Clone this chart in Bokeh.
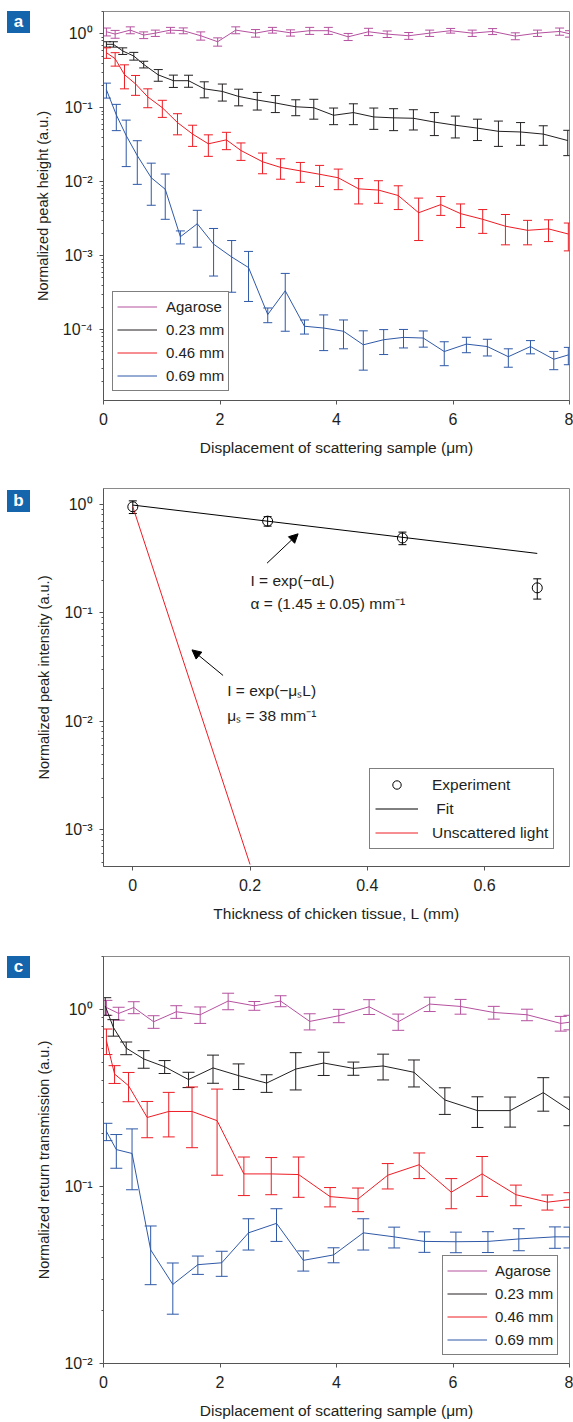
from bokeh.plotting import figure
from bokeh.models import (ColumnDataSource, Whisker, TeeHead, Legend, LegendItem, Label, Arrow,
                          NormalHead, FixedTicker, CustomJSTickFormatter, Range1d, Div)
from bokeh.layouts import column, row
from bokeh.embed import file_html
from bokeh.resources import INLINE

FONT = "Liberation Sans"
FS_TICK = "16px"
FS_X = "15.5px"
FS_Y = "14.5px"
FS_LEG = "15px"
FS_ANN = "15.5px"
TXT = "#231f20"
C_AG = "#b5519f"
C_BK = "#231f20"
C_RD = "#ed1c24"
C_BL = "#2f59a7"
NAN = float("nan")

# ---------------- Panel a data ----------------
a_ag_x = [0.05, 0.2, 0.46, 0.69, 0.89, 1.15, 1.37, 1.67, 1.96, 2.27, 2.61, 2.90, 3.21, 3.54,
          3.86, 4.20, 4.55, 4.87, 5.24, 5.60, 5.96, 6.33, 6.68, 7.07, 7.45, 7.83, 8.0]
a_ag_y = [1.065, 0.99, 1.12, 0.96, 1.02, 1.12, 1.10, 0.94, 0.78, 1.12, 1.02, 1.12, 1.03, 1.10,
          1.10, 0.91, 1.065, 0.99, 0.94, 1.02, 1.10, 1.02, 1.075, 0.93, 1.02, 1.075, 1.0]
a_ag_e = [0.13, 0.12, 0.12, 0.1, 0.1, 0.1, 0.1, 0.12, 0.1, 0.12, 0.12, 0.1, 0.1, 0.12,
          0.12, 0.1, 0.12, 0.1, 0.1, 0.1, 0.08, 0.1, 0.1, 0.1, 0.1, 0.12, 0.1]

a_bk_x = [0.05, 0.17, 0.33, 0.52, 0.69, 0.94, 1.20, 1.46, 1.73, 2.04, 2.32, 2.64, 2.95, 3.30,
          3.61, 3.95, 4.29, 4.64, 4.98, 5.32, 5.68, 6.04, 6.42, 6.78, 7.16, 7.55, 7.97]
a_bk_y = [0.72, 0.72, 0.585, 0.50, 0.385, 0.278, 0.232, 0.232, 0.18, 0.166, 0.142, 0.127, 0.116,
          0.103, 0.100, 0.079, 0.086, 0.075, 0.073, 0.072, 0.064, 0.058, 0.053, 0.048, 0.047,
          0.044, 0.036]
a_bk_e = [0.06, 0.06, 0.06, 0.06, 0.04, 0.05, 0.044, 0.043, 0.044, 0.043, 0.036, 0.034, 0.03,
          0.025, 0.03, 0.02, 0.027, 0.024, 0.024, 0.022, 0.022, 0.019, 0.017, 0.018, 0.016,
          0.013, 0.0135]

a_rd_x = [0.05, 0.2, 0.36, 0.55, 0.76, 1.01, 1.27, 1.53, 1.80, 2.11, 2.36, 2.73, 3.04, 3.38,
          3.71, 4.03, 4.38, 4.72, 5.06, 5.41, 5.79, 6.13, 6.51, 6.90, 7.28, 7.64, 7.98]
a_rd_y = [0.555, 0.46, 0.28, 0.21, 0.14, 0.1, 0.063, 0.044, 0.0325, 0.0368, 0.0264, 0.0186,
          0.0156, 0.014, 0.0126, 0.0113, 0.0080, 0.0077, 0.0065, 0.0038, 0.0049, 0.0037, 0.0031,
          0.0025, 0.0022, 0.0023, 0.00196]
a_rd_e = [0.09, 0.095, 0.1, 0.063, 0.04, 0.026, 0.02, 0.014, 0.0105, 0.0097, 0.007, 0.0058,
          0.0048, 0.0042, 0.004, 0.0035, 0.003, 0.0026, 0.0023, 0.0022, 0.0014, 0.0013, 0.0011,
          0.0011, 0.0008, 0.00075, 0.0008]

a_bl_x = [0.05, 0.22, 0.39, 0.58, 0.82, 1.06, 1.32, 1.61, 1.89, 2.2, 2.49, 2.82, 3.12, 3.45,
          3.78, 4.12, 4.46, 4.81, 5.15, 5.49, 5.85, 6.23, 6.59, 6.95, 7.33, 7.73, 7.98]
a_bl_y = [0.175, 0.08, 0.042, 0.0225, 0.0113, 0.0079, 0.0018, 0.0027, 0.00143, 0.00096, 0.00069,
          0.00016, 0.000335, 0.000111, 0.000105, 0.000095, 0.0000623, 0.000073, 0.0000785,
          0.0000769, 0.0000505, 0.0000637, 0.000059, 0.000043, 0.000059, 0.0000397, 0.0000455]
a_bl_e = [0.04, 0.031, 0.026, 0.0133, 0.0065, 0.0048, 0.00036, 0.0014, 0.0009, 0.00064, 0.00045,
          0.000036, 0.00024, 0.000024, 0.000053, 0.00004, 0.000034, 0.000027, 0.000022,
          0.000019, 0.000018, 0.000015, 0.000015, 0.000012, 0.000012, 0.000011, 0.000012]

# ---------------- Panel b data ----------------
b_exp_x = [0.0, 0.23, 0.46, 0.69]
b_exp_y = [0.95, 0.70, 0.49, 0.17]
b_exp_e = [0.127, 0.07, 0.065, 0.036]
b_fit_x = [0.0, 0.69]
b_fit_y = [0.985, 0.353]
b_uns_x = [0.0, 0.2]
b_uns_y = [0.95, 0.00048]

# ---------------- Panel c data ----------------
c_ag_x = [0.05, 0.26, 0.52, 0.86, 1.25, 1.66, 2.14, 2.59, 3.04, 3.54, 4.04, 4.56, 5.06, 5.60,
          6.13, 6.70, 7.27, 7.85, 8.0]
c_ag_y = [1.03, 0.953, 1.03, 0.855, 0.974, 0.937, 1.12, 1.053, 1.12, 0.859, 0.925, 1.04, 0.855,
          1.077, 1.044, 0.965, 0.937, 0.837, 0.85]
c_ag_e = [0.1, 0.08, 0.08, 0.07, 0.08, 0.1, 0.12, 0.06, 0.08, 0.09, 0.08, 0.1, 0.09, 0.1, 0.1,
          0.08, 0.07, 0.08, 0.08]

c_bk_x = [0.03, 0.17, 0.39, 0.69, 1.05, 1.46, 1.88, 2.32, 2.80, 3.30, 3.78, 4.29, 4.80, 5.33,
          5.86, 6.42, 6.98, 7.55, 8.0]
c_bk_y = [1.05, 0.794, 0.607, 0.527, 0.476, 0.403, 0.469, 0.424, 0.385, 0.462, 0.5, 0.466,
          0.481, 0.443, 0.309, 0.269, 0.269, 0.34, 0.271]
c_bk_e = [0.12, 0.085, 0.05, 0.06, 0.04, 0.04, 0.085, 0.07, 0.044, 0.11, 0.075, 0.04, 0.08,
          0.077, 0.053, 0.053, 0.052, 0.073, 0.05]

c_rd_x = [0.05, 0.19, 0.43, 0.75, 1.12, 1.52, 1.95, 2.41, 2.88, 3.35, 3.89, 4.37, 4.88, 5.42,
          5.97, 6.50, 7.08, 7.62, 8.0]
c_rd_y = [0.668, 0.433, 0.372, 0.246, 0.266, 0.266, 0.236, 0.118, 0.118, 0.117, 0.0878, 0.0852,
          0.116, 0.133, 0.093, 0.118, 0.09, 0.0817, 0.0844]
c_rd_e = [0.11, 0.05, 0.07, 0.057, 0.075, 0.1, 0.12, 0.029, 0.028, 0.03, 0.011, 0.013, 0.019,
          0.022, 0.018, 0.03, 0.012, 0.008, 0.008]

c_bl_x = [0.05, 0.22, 0.49, 0.81, 1.19, 1.62, 2.03, 2.49, 2.97, 3.43, 3.95, 4.46, 4.99, 5.51,
          6.05, 6.60, 7.13, 7.75, 8.0]
c_bl_y = [0.205, 0.162, 0.154, 0.0439, 0.028, 0.0362, 0.0371, 0.0548, 0.062, 0.0383, 0.0411,
          0.0548, 0.052, 0.049, 0.0488, 0.049, 0.0506, 0.052, 0.052]
c_bl_e = [0.023, 0.035, 0.058, 0.016, 0.009, 0.0043, 0.006, 0.011, 0.013, 0.005, 0.004, 0.011,
          0.007, 0.0065, 0.0065, 0.0066, 0.0072, 0.0072, 0.007]

legend_labels = ["Agarose", "0.23 mm", "0.46 mm", "0.69 mm"]
series_colors = [C_AG, C_BK, C_RD, C_BL]
x_ticks_disp = [0, 2, 4, 6, 8]
x_ticks_thick = [0, 0.2, 0.4, 0.6]

SUP_JS = """
const e = Math.round(Math.log10(tick));
const m = {"-": "\u207b", "0": "\u2070", "1": "\u00b9", "2": "\u00b2", "3": "\u00b3",
           "4": "\u2074", "5": "\u2075", "6": "\u2076", "7": "\u2077", "8": "\u2078", "9": "\u2079"};
return "10" + String(e).split("").map(c => m[c]).join("");
"""

PAGE_W = 573
LETTER_W = 31
FRAME_LEFT = 103


def log_ticks(lo, hi):
    major = [10.0 ** k for k in range(lo, hi + 1)]
    minor = [m * 10.0 ** k for k in range(lo - 1, hi + 1) for m in range(2, 10)]
    return FixedTicker(ticks=major, minor_ticks=minor)


def make_fig(height, btop, bbot, xr, yr, ylo, yhi, xticks):
    p = figure(width=PAGE_W - LETTER_W, height=height, x_range=Range1d(*xr),
               y_range=Range1d(*yr), y_axis_type="log", output_backend="svg",
               toolbar_location=None, min_border_left=FRAME_LEFT - LETTER_W,
               min_border_right=4, min_border_top=btop, min_border_bottom=bbot)
    p.grid.visible = False
    p.outline_line_color = "#8a8a8a"
    p.outline_line_width = 1
    for ax in (p.xaxis[0], p.yaxis[0]):
        ax.axis_line_color = "#555555"
        ax.major_tick_line_color = "#555555"
        ax.minor_tick_line_color = "#555555"
        ax.major_tick_in = 0
        ax.major_tick_out = 4
        ax.minor_tick_in = 0
        ax.minor_tick_out = 2
        ax.major_label_text_font = FONT
        ax.major_label_text_font_size = FS_TICK
        ax.major_label_text_color = TXT
        ax.axis_label_text_font = FONT
        ax.axis_label_text_font_style = "normal"
        ax.axis_label_text_color = TXT
    p.xaxis.axis_label_text_font_size = FS_X
    p.yaxis.axis_label_text_font_size = FS_Y
    p.xaxis.ticker = FixedTicker(ticks=xticks)
    p.xaxis.minor_tick_line_color = None
    p.xaxis.major_label_standoff = 8
    p.xaxis.axis_label_standoff = 11
    p.yaxis.major_label_standoff = 7
    p.yaxis.axis_label_standoff = 9
    p.yaxis.ticker = log_ticks(ylo, yhi)
    p.yaxis.formatter = CustomJSTickFormatter(code=SUP_JS)
    return p


def legend_renderers(p, colors):
    # dedicated renderers (NaN data, nothing drawn in the frame) used for legend swatches
    return [p.line(x=[NAN, NAN], y=[NAN, NAN], line_color=c, line_width=1) for c in colors]


def series(p, x, y, e, color, cap):
    p.line(x, y, line_color=color, line_width=1)
    src = ColumnDataSource(dict(x=x, lo=[a - b for a, b in zip(y, e)],
                                hi=[a + b for a, b in zip(y, e)]))
    w = Whisker(base="x", lower="lo", upper="hi", source=src, line_color=color, line_width=1,
                upper_head=TeeHead(size=cap, line_color=color, line_width=1),
                lower_head=TeeHead(size=cap, line_color=color, line_width=1))
    p.add_layout(w)


def letter_div(letter, top, height):
    html = ('<div style="position:relative;width:%dpx;height:%dpx;">'
            '<div style="position:absolute;left:7px;top:%dpx;width:23px;height:22px;'
            'background:#1565ad;color:#ffffff;font-family:\'Liberation Sans\',Arial,sans-serif;'
            'font-weight:bold;font-size:17px;line-height:22px;text-align:center;">%s</div></div>'
            % (LETTER_W, height, top, letter))
    return Div(text=html, width=LETTER_W, height=height, margin=0)


def style_legend(leg, gw, lh, sp, pad, standoff):
    leg.border_line_color = "black"
    leg.border_line_width = 1
    leg.background_fill_color = "white"
    leg.background_fill_alpha = 1
    leg.label_text_font = FONT
    leg.label_text_font_size = FS_LEG
    leg.label_text_color = TXT
    leg.glyph_width = gw
    leg.glyph_height = lh
    leg.label_height = lh
    leg.spacing = sp
    leg.padding = pad
    leg.margin = 0
    leg.label_standoff = standoff


# ---------------- Panel a ----------------
H_A, H_B, H_C = 470, 466, 497
pa = make_fig(H_A, 11, 70, (0, 8), (1.1e-5, 2.0), -4, 0, x_ticks_disp)
pa.xaxis.axis_label = "Displacement of scattering sample (\u03bcm)"
pa.yaxis.axis_label = "Normalized peak height (a.u.)"
series(pa, a_ag_x, a_ag_y, a_ag_e, C_AG, 9)
series(pa, a_bk_x, a_bk_y, a_bk_e, C_BK, 9)
series(pa, a_rd_x, a_rd_y, a_rd_e, C_RD, 9)
series(pa, a_bl_x, a_bl_y, a_bl_e, C_BL, 9)
la = legend_renderers(pa, series_colors)
leg_a = Legend(items=[LegendItem(label=l, renderers=[r]) for l, r in zip(legend_labels, la)],
               location=(9, 9))
style_legend(leg_a, 40, 21, 2, 4, 9)
pa.add_layout(leg_a)

# ---------------- Panel b ----------------
pb = make_fig(H_B, 18, 70, (-0.05, 0.745), (4.6e-4, 1.4), -3, 0, x_ticks_thick)
pb.xaxis.axis_label = "Thickness of chicken tissue, L (mm)"
pb.yaxis.axis_label = "Normalized peak intensity (a.u.)"
r_uns = pb.line(b_uns_x, b_uns_y, line_color=C_RD, line_width=1)
r_fit = pb.line(b_fit_x, b_fit_y, line_color="black", line_width=1)
src_e = ColumnDataSource(dict(x=b_exp_x, y=b_exp_y,
                              lo=[a - b for a, b in zip(b_exp_y, b_exp_e)],
                              hi=[a + b for a, b in zip(b_exp_y, b_exp_e)]))
pb.add_layout(Whisker(base="x", lower="lo", upper="hi", source=src_e, line_color="black",
                      line_width=1, upper_head=TeeHead(size=8, line_color="black", line_width=1),
                      lower_head=TeeHead(size=8, line_color="black", line_width=1)))
r_exp = pb.scatter("x", "y", source=src_e, marker="circle", size=10, fill_color=None,
                   line_color="black", line_width=1)
leg_b = Legend(items=[LegendItem(label="Experiment", renderers=[r_exp]),
                      LegendItem(label=" Fit", renderers=[r_fit]),
                      LegendItem(label="Unscattered light", renderers=[r_uns])],
               location=(266, 17))
style_legend(leg_b, 43, 21, 3, 5, 14)
leg_b.label_text_font_size = FS_ANN
pb.add_layout(leg_b)
pb.add_layout(Arrow(x_start=0.229, y_start=0.287, x_end=0.282, y_end=0.535, line_width=1,
                    line_color="black",
                    end=NormalHead(size=9, fill_color="black", line_color="black")))
pb.add_layout(Arrow(x_start=0.154, y_start=0.0265, x_end=0.101, y_end=0.0456, line_width=1,
                    line_color="black",
                    end=NormalHead(size=9, fill_color="black", line_color="black")))
for tx, ty, tt in [(0.2008, 0.1987, "I = exp(\u2212\u03b1L)"),
                   (0.2008, 0.123, "\u03b1 = (1.45 \u00b1 0.05) mm\u207b\u00b9"),
                   (0.161, 0.0192, "I = exp(\u2212\u03bc\u209bL)"),
                   (0.161, 0.0113, "\u03bc\u209b = 38 mm\u207b\u00b9")]:
    pb.add_layout(Label(x=tx, y=ty, text=tt, text_font=FONT, text_font_size=FS_ANN,
                        text_color=TXT, text_baseline="middle", text_align="left"))

# ---------------- Panel c ----------------
pc = make_fig(H_C, 20, 70, (0, 8), (0.01, 2.0), -2, 0, x_ticks_disp)
pc.xaxis.axis_label = "Displacement of scattering sample (\u03bcm)"
pc.yaxis.axis_label = "Normalized return transmission (a.u.)"
series(pc, c_ag_x, c_ag_y, c_ag_e, C_AG, 12)
series(pc, c_bk_x, c_bk_y, c_bk_e, C_BK, 12)
series(pc, c_rd_x, c_rd_y, c_rd_e, C_RD, 12)
series(pc, c_bl_x, c_bl_y, c_bl_e, C_BL, 12)
lc = legend_renderers(pc, series_colors)
leg_c = Legend(items=[LegendItem(label=l, renderers=[r]) for l, r in zip(legend_labels, lc)],
               location=(339, 8))
style_legend(leg_c, 40, 21, 2, 4, 8)
pc.add_layout(leg_c)

layout = column(row(letter_div("a", 11, H_A), pa, spacing=0),
                row(letter_div("b", 20, H_B), pb, spacing=0),
                row(letter_div("c", 20, H_C), pc, spacing=0),
                spacing=0)
open("out.html", "w").write(file_html(layout, INLINE))
